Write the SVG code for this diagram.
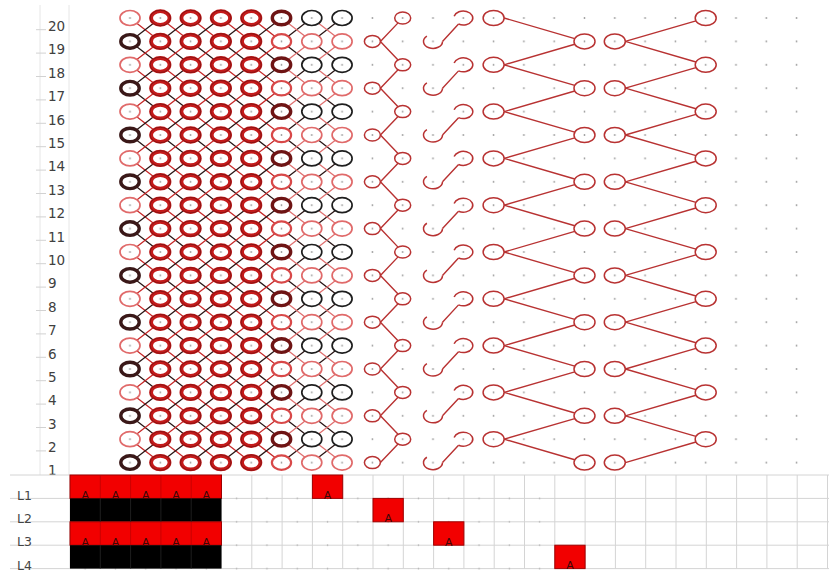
<svg xmlns="http://www.w3.org/2000/svg" width="829" height="574" viewBox="0 0 829 574">
<style>
.lbl{font-family:"DejaVu Sans","Liberation Sans",sans-serif;font-size:13.5px;fill:#404040}
.tl{font-family:"DejaVu Sans","Liberation Sans",sans-serif;font-size:12.5px;fill:#444}
.a{font-family:"DejaVu Sans","Liberation Sans",sans-serif;font-size:11px;fill:#3a0808;text-anchor:middle}
.ct{fill:#fff;stroke:#c41a1a;stroke-width:3.8}
.cd{fill:#fff;stroke:#6e1414;stroke-width:3.4}
.cbt{fill:#fff;stroke:#3a1818;stroke-width:3.4}
.cb{fill:#fff;stroke:#1e1e1e;stroke-width:1.7}
.cl{fill:#fff;stroke:#e06a6a;stroke-width:1.7}
.cm{fill:#fff;stroke:#d84848;stroke-width:2.2}
.ro{fill:none;stroke:#7a1212;stroke-width:0.8}
.cs{fill:none;stroke:#b83232;stroke-width:1.5}
.er{stroke:#c62828;stroke-width:1.3;fill:none}
.ek{stroke:#2a1616;stroke-width:1.3;fill:none}
.el{stroke:#e07070;stroke-width:1.3;fill:none}
.es{stroke:#b83232;stroke-width:1.4;fill:none}
.grid{stroke:#d4d4d4;stroke-width:1;fill:none}
.faint{stroke:#e6e6e6;stroke-width:1;fill:none}
.red{fill:#f20000;stroke:#a00000;stroke-width:1}
.blk{fill:#000}
</style>
<defs>
<pattern id="dots" patternUnits="userSpaceOnUse" x="114.85" y="6.3" width="30.3" height="23.4"><circle cx="15.15" cy="11.7" r="0.9" fill="#9a9a9a"/></pattern>
<pattern id="tdots" patternUnits="userSpaceOnUse" x="70" y="463.3" width="30.3" height="23.4"><circle cx="15.15" cy="11.7" r="0.8" fill="#aaaaaa"/></pattern>
<g id="pairEdges">
<path class="er" d="M130 0L160.3 23.4M160.3 0L190.6 23.4M190.6 0L220.9 23.4M220.9 0L251.2 23.4M251.2 0L281.5 23.4"/>
<path class="ek" d="M130 23.4L160.3 0M160.3 23.4L190.6 0M190.6 23.4L220.9 0M220.9 23.4L251.2 0M251.2 23.4L281.5 0M281.5 23.4L311.8 0M311.8 23.4L342.1 0"/>
<path class="el" d="M281.5 0L311.8 23.4M311.8 0L342.1 23.4"/>
<path class="es" d="M380.4 23.4L398.05 4.88M442.5 23.4L458.55 6.06M504.1 0L574.77 20.57M625.3 23.4L695.97 2.83"/>
</g>
<g id="linkEdges">
<path class="ek" d="M130 23.4L160.3 46.8M160.3 23.4L190.6 46.8M190.6 23.4L220.9 46.8M220.9 23.4L251.2 46.8M251.2 23.4L281.5 46.8M281.5 23.4L311.8 46.8M311.8 23.4L342.1 46.8"/>
<path class="er" d="M130 46.8L160.3 23.4M160.3 46.8L190.6 23.4M190.6 46.8L220.9 23.4M220.9 46.8L251.2 23.4M251.2 46.8L281.5 23.4"/>
<path class="el" d="M281.5 46.8L311.8 23.4M311.8 46.8L342.1 23.4"/>
<path class="es" d="M380.4 23.4L398.05 41.92M504.1 46.8L574.77 26.23M625.3 23.4L695.97 43.97"/>
</g>
<g id="pairNodes">
<ellipse class="cl" cx="130" cy="0" rx="10" ry="7.5"/>
<ellipse class="ct" cx="160.3" cy="0" rx="9.2" ry="6.8"/>
<ellipse class="ct" cx="190.6" cy="0" rx="9.2" ry="6.8"/>
<ellipse class="ct" cx="220.9" cy="0" rx="9.2" ry="6.8"/>
<ellipse class="ct" cx="251.2" cy="0" rx="9.2" ry="6.8"/>
<ellipse class="cd" cx="281.5" cy="0" rx="9.2" ry="6.8"/>
<ellipse class="cb" cx="311.8" cy="0" rx="10" ry="7.5"/>
<ellipse class="cb" cx="342.1" cy="0" rx="10" ry="7.5"/>
<ellipse class="cbt" cx="130" cy="23.4" rx="9.2" ry="6.8"/>
<ellipse class="ct" cx="160.3" cy="23.4" rx="9.2" ry="6.8"/>
<ellipse class="ct" cx="190.6" cy="23.4" rx="9.2" ry="6.8"/>
<ellipse class="ct" cx="220.9" cy="23.4" rx="9.2" ry="6.8"/>
<ellipse class="ct" cx="251.2" cy="23.4" rx="9.2" ry="6.8"/>
<ellipse class="cm" cx="281.5" cy="23.4" rx="9.6" ry="7.2"/>
<ellipse class="cl" cx="311.8" cy="23.4" rx="10" ry="7.5"/>
<ellipse class="cl" cx="342.1" cy="23.4" rx="10" ry="7.5"/>
<path class="ro" d="M150.2 0a10.1 7.7 0 1 0 20.2 0a10.1 7.7 0 1 0 -20.2 0M180.5 0a10.1 7.7 0 1 0 20.2 0a10.1 7.7 0 1 0 -20.2 0M210.8 0a10.1 7.7 0 1 0 20.2 0a10.1 7.7 0 1 0 -20.2 0M241.1 0a10.1 7.7 0 1 0 20.2 0a10.1 7.7 0 1 0 -20.2 0M150.2 23.4a10.1 7.7 0 1 0 20.2 0a10.1 7.7 0 1 0 -20.2 0M180.5 23.4a10.1 7.7 0 1 0 20.2 0a10.1 7.7 0 1 0 -20.2 0M210.8 23.4a10.1 7.7 0 1 0 20.2 0a10.1 7.7 0 1 0 -20.2 0M241.1 23.4a10.1 7.7 0 1 0 20.2 0a10.1 7.7 0 1 0 -20.2 0"/>
<ellipse class="cs" cx="372.4" cy="23.4" rx="8" ry="6"/>
<ellipse class="cs" cx="402.7" cy="0" rx="8" ry="6"/>
<path class="cs" d="M426.89 18.04A9.5 7 0 1 0 442.5 23.4"/>
<path class="cs" d="M458.55 6.06A9.5 7 0 1 0 454.12 -1.81"/>
<ellipse class="cs" cx="493.6" cy="0" rx="10.5" ry="7.5"/>
<ellipse class="cs" cx="584.5" cy="23.4" rx="10.5" ry="7.5"/>
<ellipse class="cs" cx="614.8" cy="23.4" rx="10.5" ry="7.5"/>
<ellipse class="cs" cx="705.7" cy="0" rx="10.5" ry="7.5"/>
</g>
</defs>
<rect width="829" height="574" fill="#fff"/>
<g id="row-header">
<path class="faint" d="M40 5V475M69 5V475"/>
<path stroke="#d2d2d2" stroke-width="1" d="M36 29.7H46M36 53.1H46M36 76.5H46M36 99.9H46M36 123.3H46M36 146.7H46M36 170.1H46M36 193.5H46M36 216.9H46M36 240.3H46M36 263.7H46M36 287.1H46M36 310.5H46M36 333.9H46M36 357.3H46M36 380.7H46M36 404.1H46M36 427.5H46M36 450.9H46"/>
<text class="lbl" x="48" y="31">20</text>
<text class="lbl" x="48" y="54.4">19</text>
<text class="lbl" x="48" y="77.8">18</text>
<text class="lbl" x="48" y="101.2">17</text>
<text class="lbl" x="48" y="124.6">16</text>
<text class="lbl" x="48" y="148">15</text>
<text class="lbl" x="48" y="171.4">14</text>
<text class="lbl" x="48" y="194.8">13</text>
<text class="lbl" x="48" y="218.2">12</text>
<text class="lbl" x="48" y="241.6">11</text>
<text class="lbl" x="48" y="265">10</text>
<text class="lbl" x="48" y="288.4">9</text>
<text class="lbl" x="48" y="311.8">8</text>
<text class="lbl" x="48" y="335.2">7</text>
<text class="lbl" x="48" y="358.6">6</text>
<text class="lbl" x="48" y="382">5</text>
<text class="lbl" x="48" y="405.4">4</text>
<text class="lbl" x="48" y="428.8">3</text>
<text class="lbl" x="48" y="452.2">2</text>
<text class="lbl" x="48" y="475.2">1</text>
</g>
<g id="connectors">
<use href="#pairEdges" transform="translate(0,18)"/>
<use href="#pairEdges" transform="translate(0,64.8)"/>
<use href="#pairEdges" transform="translate(0,111.6)"/>
<use href="#pairEdges" transform="translate(0,158.4)"/>
<use href="#pairEdges" transform="translate(0,205.2)"/>
<use href="#pairEdges" transform="translate(0,252)"/>
<use href="#pairEdges" transform="translate(0,298.8)"/>
<use href="#pairEdges" transform="translate(0,345.6)"/>
<use href="#pairEdges" transform="translate(0,392.4)"/>
<use href="#pairEdges" transform="translate(0,439.2)"/>
<use href="#linkEdges" transform="translate(0,18)"/>
<use href="#linkEdges" transform="translate(0,64.8)"/>
<use href="#linkEdges" transform="translate(0,111.6)"/>
<use href="#linkEdges" transform="translate(0,158.4)"/>
<use href="#linkEdges" transform="translate(0,205.2)"/>
<use href="#linkEdges" transform="translate(0,252)"/>
<use href="#linkEdges" transform="translate(0,298.8)"/>
<use href="#linkEdges" transform="translate(0,345.6)"/>
<use href="#linkEdges" transform="translate(0,392.4)"/>
</g>
<g id="nodes">
<g id="rows-20-19"><use href="#pairNodes" transform="translate(0,18)"/></g>
<g id="rows-18-17"><use href="#pairNodes" transform="translate(0,64.8)"/></g>
<g id="rows-16-15"><use href="#pairNodes" transform="translate(0,111.6)"/></g>
<g id="rows-14-13"><use href="#pairNodes" transform="translate(0,158.4)"/></g>
<g id="rows-12-11"><use href="#pairNodes" transform="translate(0,205.2)"/></g>
<g id="rows-10-9"><use href="#pairNodes" transform="translate(0,252)"/></g>
<g id="rows-8-7"><use href="#pairNodes" transform="translate(0,298.8)"/></g>
<g id="rows-6-5"><use href="#pairNodes" transform="translate(0,345.6)"/></g>
<g id="rows-4-3"><use href="#pairNodes" transform="translate(0,392.4)"/></g>
<g id="rows-2-1"><use href="#pairNodes" transform="translate(0,439.2)"/></g>
</g>
<rect id="grid-dots" x="114.85" y="6.3" width="697" height="468" fill="url(#dots)"/>
<g id="table">
<path class="grid" d="M10 475H829M10 498.4H829M10 521.8H829M10 545.2H829M10 568.6H829"/>
<path class="grid" d="M70 475V568.6M100.3 475V568.6M130.6 475V568.6M160.9 475V568.6M191.2 475V568.6M221.5 475V568.6M251.8 475V568.6M282.1 475V568.6M312.4 475V568.6M342.7 475V568.6M373 475V568.6M403.3 475V568.6M433.6 475V568.6M463.9 475V568.6M494.2 475V568.6M524.5 475V568.6M554.8 475V568.6M585.1 475V568.6M615.4 475V568.6M645.7 475V568.6M676 475V568.6M706.3 475V568.6M736.6 475V568.6M766.9 475V568.6M797.2 475V568.6M827.5 475V568.6"/>
<rect x="221.5" y="487" width="333.3" height="84" fill="url(#tdots)"/>
<rect x="70" y="560" width="151.5" height="11" fill="url(#tdots)"/>
<g id="block">
<rect class="red" x="70" y="475" width="151.5" height="23.4"/>
<rect class="blk" x="70" y="498.4" width="151.5" height="23.4"/>
<rect class="red" x="70" y="521.8" width="151.5" height="23.4"/>
<rect class="blk" x="70" y="545.2" width="151.5" height="23.4"/>
<path stroke="#c00000" stroke-width="0.8" d="M100.3 475V498.4M130.6 475V498.4M160.9 475V498.4M191.2 475V498.4M100.3 521.8V545.2M130.6 521.8V545.2M160.9 521.8V545.2M191.2 521.8V545.2"/>
<path stroke="#262626" stroke-width="0.8" d="M100.3 498.4V521.8M130.6 498.4V521.8M160.9 498.4V521.8M191.2 498.4V521.8M100.3 545.2V568.6M130.6 545.2V568.6M160.9 545.2V568.6M191.2 545.2V568.6"/>
<text class="a" x="85.15" y="499">A</text>
<text class="a" x="115.45" y="499">A</text>
<text class="a" x="145.75" y="499">A</text>
<text class="a" x="176.05" y="499">A</text>
<text class="a" x="206.35" y="499">A</text>
<text class="a" x="85.15" y="545.8">A</text>
<text class="a" x="115.45" y="545.8">A</text>
<text class="a" x="145.75" y="545.8">A</text>
<text class="a" x="176.05" y="545.8">A</text>
<text class="a" x="206.35" y="545.8">A</text>
</g>
<g id="cell-L1"><rect class="red" x="312.4" y="475" width="30.3" height="23.4"/><text class="a" x="327.55" y="499">A</text></g>
<g id="cell-L2"><rect class="red" x="373" y="498.4" width="30.3" height="23.4"/><text class="a" x="388.15" y="522.4">A</text></g>
<g id="cell-L3"><rect class="red" x="433.6" y="521.8" width="30.3" height="23.4"/><text class="a" x="448.75" y="545.8">A</text></g>
<g id="cell-L4"><rect class="red" x="554.8" y="545.2" width="30.3" height="23.4"/><text class="a" x="569.95" y="569.2">A</text></g>
<text class="tl" x="17" y="499.5">L1</text>
<text class="tl" x="17" y="522.9">L2</text>
<text class="tl" x="17" y="546.3">L3</text>
<text class="tl" x="17" y="569.7">L4</text>
</g>
</svg>
